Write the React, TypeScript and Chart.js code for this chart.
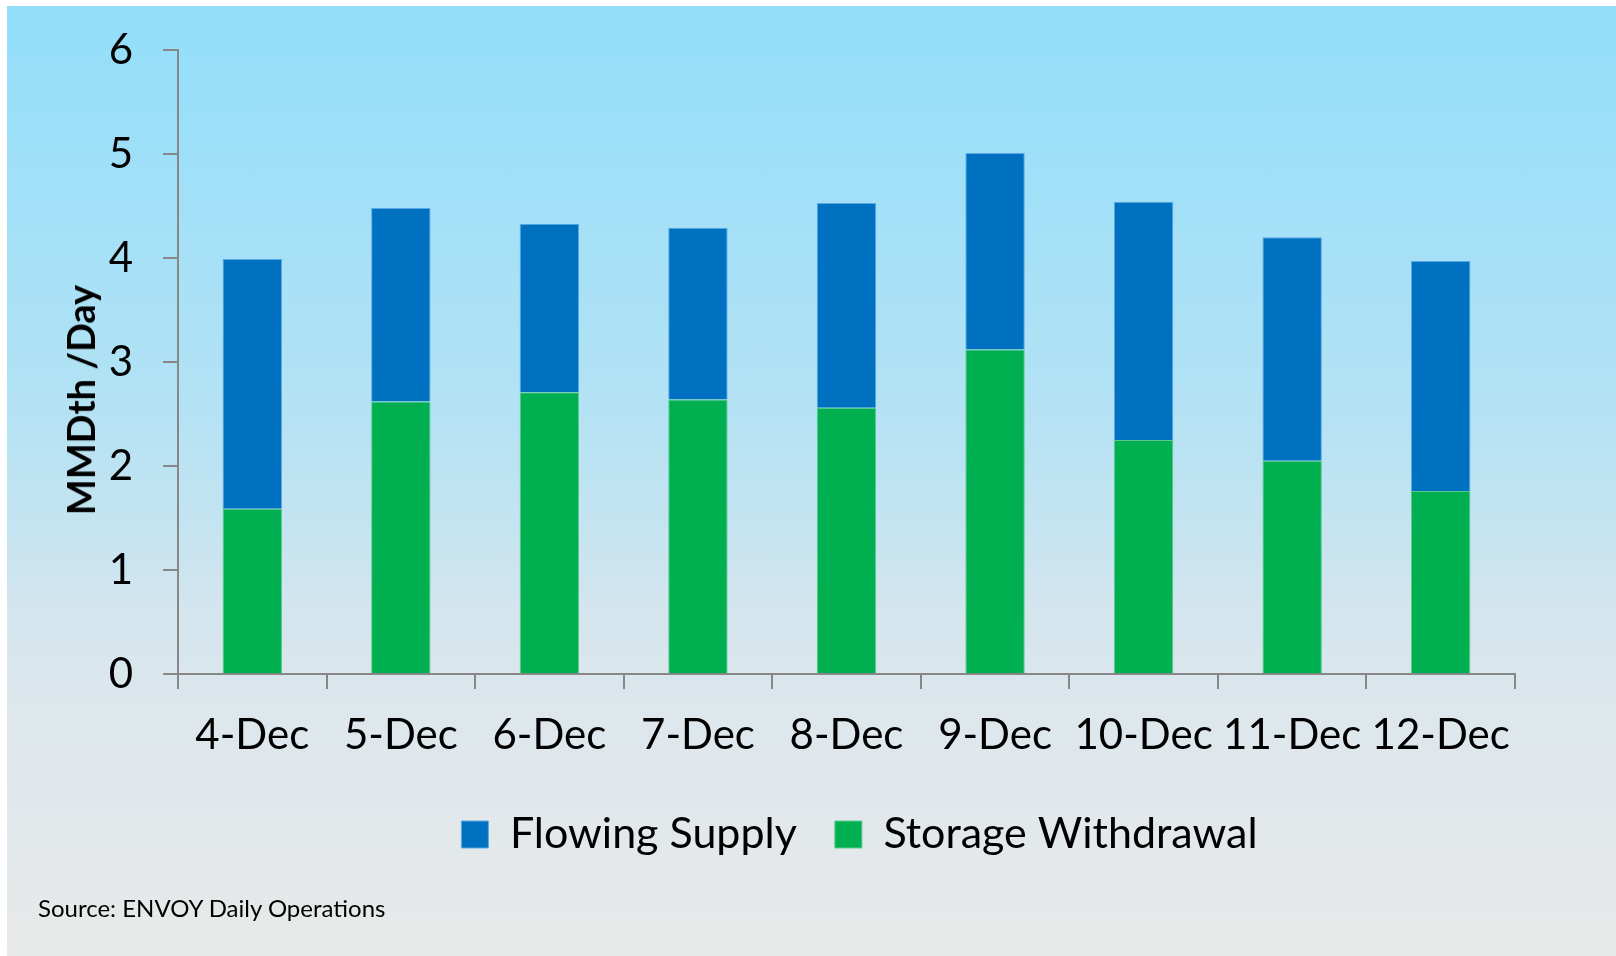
import React, { useEffect, useRef } from "react";
import { Chart, registerables } from "chart.js";

Chart.register(...registerables);

const categories = ["4-Dec", "5-Dec", "6-Dec", "7-Dec", "8-Dec", "9-Dec", "10-Dec", "11-Dec", "12-Dec"];
const storageWithdrawal = [1.59, 2.62, 2.71, 2.64, 2.56, 3.12, 2.25, 2.05, 1.76];
const flowingSupply = [2.40, 1.86, 1.62, 1.65, 1.97, 1.89, 2.29, 2.15, 2.21];
const yTicks = [0, 1, 2, 3, 4, 5, 6];

const PANEL_W = 1609;
const PANEL_H = 950;
const FONT = "Lato, 'Open Sans', sans-serif";

const legendShift = {
  id: "legendShift",
  afterLayout(chart: any) {
    const l = chart.legend;
    if (l) {
      l.left += 13;
      l.right += 13;
    }
  },
};

export default function App() {
  const canvasRef = useRef<HTMLCanvasElement | null>(null);

  useEffect(() => {
    if (!canvasRef.current) return;
    const axisColor = "#878787";
    const chart = new Chart(canvasRef.current, {
      type: "bar",
      data: {
        labels: categories,
        datasets: [
          {
            label: "Storage Withdrawal",
            data: storageWithdrawal,
            backgroundColor: "#00B050",
            borderColor: "#5ACB8C",
            borderWidth: 1,
            barPercentage: 0.5,
            categoryPercentage: 0.8,
          },
          {
            label: "Flowing Supply",
            data: flowingSupply,
            backgroundColor: "#0070C0",
            borderColor: "#5BA9E2",
            borderWidth: 1,
            barPercentage: 0.5,
            categoryPercentage: 0.8,
          },
        ],
      },
      plugins: [legendShift],
      options: {
        responsive: false,
        animation: false,
        devicePixelRatio: 1,
        layout: { padding: { left: 0, right: 101, top: 44, bottom: 90 } },
        plugins: {
          legend: {
            position: "bottom",
            fullSize: false,
            reverse: true,
            labels: {
              boxWidth: 27,
              boxHeight: 27,
              padding: 38,
              color: "#000",
              font: { family: FONT, size: 43 },
            },
          },
          tooltip: { enabled: false },
        },
        scales: {
          x: {
            stacked: true,
            grid: {
              drawOnChartArea: false,
              drawTicks: true,
              tickLength: 15,
              color: axisColor,
              lineWidth: 2,
              offset: true,
            },
            border: { display: true, color: axisColor, width: 2 },
            ticks: {
              color: "#000",
              font: { family: FONT, size: 42 },
              padding: 21,
              maxRotation: 0,
              autoSkip: false,
            },
            afterFit: (scale: any) => {
              scale.height = 101;
            },
          },
          y: {
            stacked: true,
            min: 0,
            max: 6,
            afterBuildTicks: (scale: any) => {
              scale.ticks = yTicks.map((v) => ({ value: v }));
            },
            grid: {
              drawOnChartArea: false,
              drawTicks: true,
              tickLength: 15,
              color: axisColor,
              lineWidth: 2,
            },
            border: { display: true, color: axisColor, width: 2 },
            ticks: {
              color: "#000",
              font: { family: FONT, size: 42, lineHeight: 0.6 },
              padding: 30,
            },
            afterFit: (scale: any) => {
              scale.width = 171;
            },
          },
        },
      },
    });
    return () => chart.destroy();
  }, []);

  return (
    <div style={{ position: "absolute", left: 0, top: 0, width: 1616, height: 956, background: "#fff", overflow: "hidden" }}>
      <div
        style={{
          position: "absolute",
          left: 7,
          top: 6,
          width: PANEL_W,
          height: PANEL_H,
          background:
            "linear-gradient(to bottom, #92DEFA 0%, #B3E2F4 42%, #C8E4F0 57%, #D3E5EE 63%, #DDE7EC 74%, #E8E9E9 100%)",
        }}
      >
        <canvas ref={canvasRef} width={PANEL_W} height={PANEL_H} style={{ display: "block" }} />
        <div
          style={{
            position: "absolute",
            left: 73,
            top: 393.5,
            transform: "translate(-50%, -50%) rotate(-90deg)",
            whiteSpace: "nowrap",
            fontFamily: FONT,
            fontWeight: 700,
            fontSize: 38,
            lineHeight: 1,
            color: "#000",
          }}
        >
          MMDth /Day
        </div>
        <div
          style={{
            position: "absolute",
            left: 31,
            top: 888,
            fontFamily: FONT,
            fontSize: 24,
            lineHeight: "28px",
            color: "#000",
            whiteSpace: "nowrap",
          }}
        >
          Source: ENVOY Daily Operations
        </div>
      </div>
    </div>
  );
}
